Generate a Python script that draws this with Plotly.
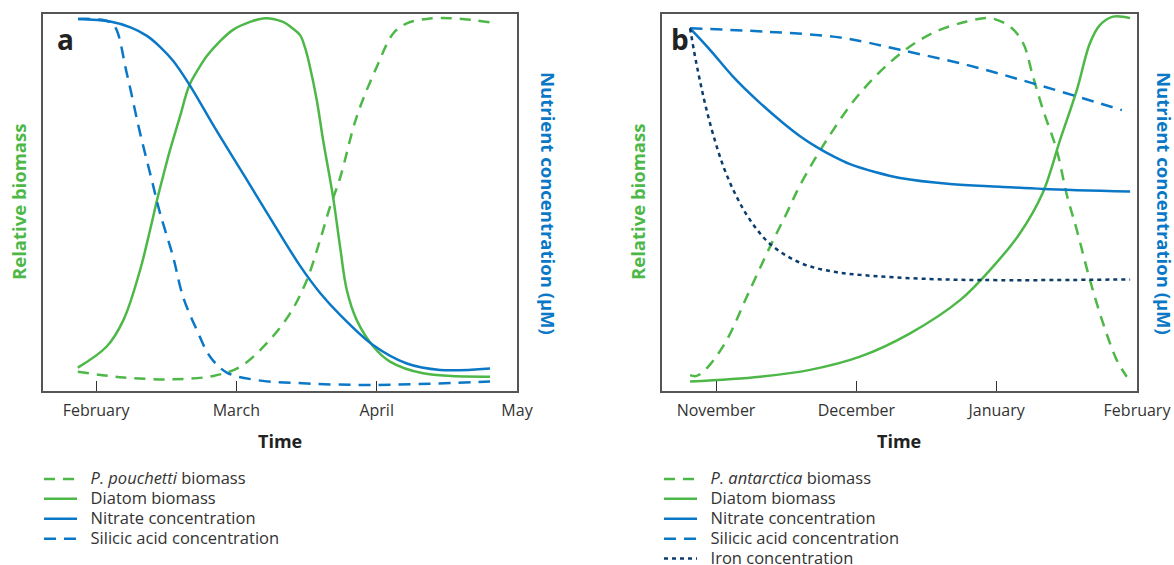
import plotly.graph_objects as go

# ---------------- Panel a data (x: months, Feb=0 ... May=3; y: relative 0-1) ----------------
months_a = ["February", "March", "April", "May"]
pp_x = [-0.130, 0.195, 0.551, 0.836, 1.026, 1.217, 1.383, 1.502, 1.597, 1.668, 1.739, 1.858, 2.001, 2.119, 2.215, 2.357, 2.523, 2.689, 2.808]
pp_y = [0.051, 0.036, 0.031, 0.040, 0.064, 0.127, 0.206, 0.294, 0.401, 0.489, 0.565, 0.728, 0.860, 0.949, 0.975, 0.987, 0.989, 0.984, 0.978]

diat_a_x = [-0.130, 0.076, 0.195, 0.314, 0.385, 0.435, 0.478, 0.527, 0.599, 0.663, 0.734, 0.791, 0.884, 0.976, 1.098, 1.205, 1.333, 1.397, 1.454, 1.490, 1.525, 1.573, 1.618, 1.689, 1.739, 1.787, 1.858, 1.976, 2.095, 2.331, 2.808]
diat_a_y = [0.062, 0.118, 0.188, 0.321, 0.427, 0.507, 0.570, 0.639, 0.729, 0.809, 0.857, 0.889, 0.928, 0.958, 0.979, 0.989, 0.979, 0.963, 0.944, 0.910, 0.859, 0.772, 0.666, 0.515, 0.383, 0.268, 0.188, 0.118, 0.078, 0.047, 0.038]

nit_a_x = [-0.128, 0.100, 0.250, 0.363, 0.456, 0.549, 0.663, 0.860, 1.062, 1.262, 1.454, 1.597, 1.739, 1.974, 2.215, 2.452, 2.808]
nit_a_y = [0.987, 0.980, 0.964, 0.942, 0.913, 0.876, 0.814, 0.690, 0.568, 0.446, 0.332, 0.260, 0.202, 0.122, 0.073, 0.056, 0.060]

sil_a_x = [-0.128, 0.076, 0.135, 0.219, 0.314, 0.397, 0.456, 0.549, 0.620, 0.718, 0.813, 0.932, 1.145, 1.502, 1.974, 2.808]
sil_a_y = [0.987, 0.982, 0.966, 0.843, 0.684, 0.560, 0.472, 0.356, 0.250, 0.162, 0.091, 0.049, 0.029, 0.020, 0.016, 0.025]

# ---------------- Panel b data (x: months, Nov=0 ... Feb=3) ----------------
months_b = ["November", "December", "January", "February"]
pa_x = [-0.185, -0.138, -0.057, 0.076, 0.219, 0.385, 0.504, 0.599, 0.789, 1.026, 1.311, 1.547, 1.787, 1.953, 2.096, 2.188, 2.259, 2.331, 2.428, 2.500, 2.571, 2.665, 2.758, 2.856, 2.927]
pa_y = [0.042, 0.040, 0.064, 0.135, 0.250, 0.383, 0.472, 0.546, 0.666, 0.790, 0.894, 0.950, 0.980, 0.989, 0.966, 0.923, 0.834, 0.745, 0.639, 0.520, 0.427, 0.294, 0.180, 0.082, 0.038]

diat_b_x = [-0.185, 0.314, 0.670, 1.026, 1.383, 1.739, 1.974, 2.167, 2.331, 2.452, 2.571, 2.665, 2.737, 2.830, 2.951]
diat_b_y = [0.025, 0.038, 0.056, 0.091, 0.153, 0.241, 0.330, 0.419, 0.528, 0.666, 0.798, 0.923, 0.971, 0.993, 0.989]

nit_b_x = [-0.185, -0.114, -0.029, 0.121, 0.299, 0.478, 0.599, 0.718, 0.834, 0.955, 1.133, 1.311, 1.668, 2.024, 2.331, 2.951]
nit_b_y = [0.962, 0.934, 0.899, 0.834, 0.769, 0.711, 0.676, 0.647, 0.623, 0.602, 0.581, 0.565, 0.549, 0.542, 0.536, 0.529]

sil_b_x = [-0.185, 0.361, 0.834, 1.071, 1.311, 1.787, 2.259, 2.892]
sil_b_y = [0.962, 0.953, 0.940, 0.925, 0.905, 0.865, 0.816, 0.745]

iron_b_x = [-0.185, -0.150, -0.114, -0.071, -0.014, 0.057, 0.143, 0.242, 0.385, 0.599, 0.813, 1.026, 1.525, 2.024, 2.951]
iron_b_y = [0.962, 0.888, 0.822, 0.751, 0.672, 0.591, 0.518, 0.454, 0.390, 0.340, 0.318, 0.308, 0.297, 0.294, 0.296]

GREEN = "#4db848"
BLUE = "#0a78c6"
NAVY = "#0b3c6b"
FONT = "Open Sans"
W, H = 1174, 565
LW = 2.5
LEG_FS = 16.5

def px(x):
    return x / W

def py(y):
    return 1 - y / H

fig = go.Figure()

def add(x, y, name, color, dash, xa, ya, legend):
    label = f'<span style="font-size:{LEG_FS}px">\u00a0\u00a0{name}</span>'
    fig.add_trace(go.Scatter(
        x=x, y=y, mode="lines", name=label,
        line=dict(color=color, width=LW, dash=dash, shape="spline", smoothing=1.0),
        xaxis=xa, yaxis=ya, legend=legend, hoverinfo="skip"))

add(pp_x, pp_y, "<i>P. pouchetti</i> biomass", GREEN, "11px,8px", "x", "y", "legend")
add(diat_a_x, diat_a_y, "Diatom biomass", GREEN, "solid", "x", "y", "legend")
add(nit_a_x, nit_a_y, "Nitrate concentration", BLUE, "solid", "x", "y", "legend")
add(sil_a_x, sil_a_y, "Silicic acid concentration", BLUE, "12px,8px", "x", "y", "legend")

add(pa_x, pa_y, "<i>P. antarctica</i> biomass", GREEN, "11px,8px", "x2", "y2", "legend2")
add(diat_b_x, diat_b_y, "Diatom biomass", GREEN, "solid", "x2", "y2", "legend2")
add(nit_b_x, nit_b_y, "Nitrate concentration", BLUE, "solid", "x2", "y2", "legend2")
add(sil_b_x, sil_b_y, "Silicic acid concentration", BLUE, "12px,8px", "x2", "y2", "legend2")
add(iron_b_x, iron_b_y, "Iron concentration", NAVY, "4px,4px", "x2", "y2", "legend2")

ydom = [py(391), py(14)]
axis_common = dict(showline=True, mirror=True, linecolor="#555555", linewidth=1.5,
                   showgrid=False, zeroline=False)
xcommon = dict(axis_common, ticks="inside", ticklen=10, tickwidth=1, tickcolor="#333333",
               tickvals=[0, 1, 2, 3], ticklabelstandoff=4,
               tickfont=dict(family=FONT, size=16, color="#333333"))
ycommon = dict(axis_common, range=[0, 1], showticklabels=False, ticks="")

legend_common = dict(font=dict(family=FONT, size=13, color="#333333"), bgcolor="rgba(0,0,0,0)",
                     orientation="v", xanchor="left", yanchor="top", tracegroupgap=0,
                     itemwidth=33, traceorder="normal")

fig.update_layout(
    width=W, height=H,
    margin=dict(l=0, r=0, t=0, b=0, autoexpand=False),
    plot_bgcolor="white", paper_bgcolor="white",
    font=dict(family=FONT, color="#333333"),
    xaxis=dict(xcommon, domain=[px(43), px(517)], range=[-0.378, 3.0], ticktext=months_a, anchor="y"),
    yaxis=dict(ycommon, domain=ydom, anchor="x"),
    xaxis2=dict(xcommon, domain=[px(662), px(1137)], range=[-0.385, 3.0], ticktext=months_b, anchor="y2"),
    yaxis2=dict(ycommon, domain=ydom, anchor="x2"),
    legend=dict(legend_common, x=px(39), y=py(464)),
    legend2=dict(legend_common, x=px(659), y=py(464)),
    showlegend=True,
)

ann = []
def text(x, y, t, size, color, angle=0, bold=False, xanchor="center", yanchor="middle"):
    ann.append(dict(x=px(x), y=py(y), xref="paper", yref="paper", text=(f"<b>{t}</b>" if bold else t),
                    showarrow=False, textangle=angle, xanchor=xanchor, yanchor=yanchor,
                    font=dict(family=FONT, size=size, color=color)))

text(65, 39, "a", 28, "#222222", bold=True)
text(680, 39, "b", 28, "#222222", bold=True)
text(280, 441, "Time", 18, "#222222", bold=True)
text(899, 441, "Time", 18, "#222222", bold=True)
text(18, 202, "Relative biomass", 18.5, GREEN, angle=-90, bold=True)
text(637, 202, "Relative biomass", 18.5, GREEN, angle=-90, bold=True)
text(549, 203, "Nutrient concentration (µM)", 18.5, BLUE, angle=90, bold=True)
text(1165, 203, "Nutrient concentration (µM)", 18.5, BLUE, angle=90, bold=True)
fig.update_layout(annotations=ann)

fig.write_html("out.html", config={"displayModeBar": False},
               post_script="document.body.style.margin='0';document.body.style.overflow='hidden';")
